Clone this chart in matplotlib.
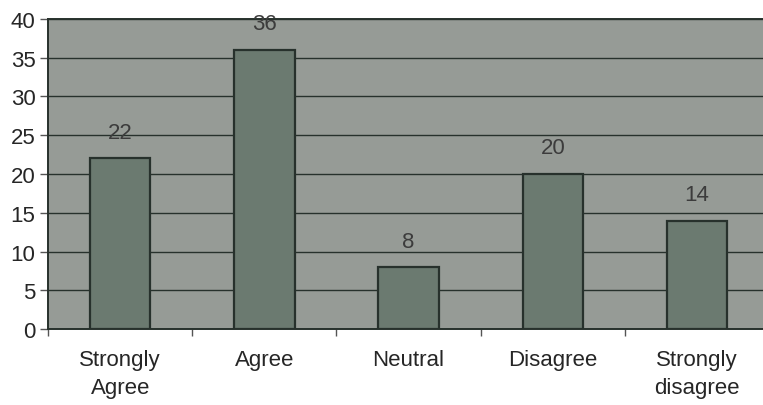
import matplotlib.pyplot as plt
import numpy as np
from matplotlib import use

use('Agg')

categories = ['Strongly\nAgree', 'Agree', 'Neutral', 'Disagree', 'Strongly\ndisagree']
values = [22, 36, 8, 20, 14]
y_ticks = [0, 5, 10, 15, 20, 25, 30, 35, 40]

plt.rcParams['font.family'] = ['Liberation Sans', 'DejaVu Sans']

fig = plt.figure(figsize=(7.63, 4.06), dpi=100)
ax = fig.add_axes([0.063, 0.187, 0.945, 0.764])

bg = '#969b96'
bar_col = '#6b7a70'
dark = '#27312c'
txt = '#262626'

ax.set_facecolor(bg)
x = np.arange(len(categories)) + 0.5
ax.bar(x, values, width=0.42, color=bar_col, edgecolor=dark, linewidth=1.6, zorder=3)

for xi, v in zip(x, values):
    ax.text(xi, v + 2.0, str(v), ha='center', va='bottom', fontsize=16, color='#3c3c3c', zorder=4)

ax.set_xlim(0, len(categories))
ax.set_ylim(0, 40)
ax.set_yticks(y_ticks)
ax.yaxis.grid(True, color=dark, linewidth=1.0, zorder=1)
ax.set_axisbelow(True)

ax.set_xticks(np.arange(len(categories) + 1))
ax.set_xticklabels([])
ax.set_xticks(x, minor=True)
ax.set_xticklabels(categories, minor=True, fontsize=16, color=txt, linespacing=1.45)
ax.tick_params(axis='x', which='minor', length=0, pad=14)
ax.tick_params(axis='x', which='major', length=5, width=1, color='#555555', direction='out')
ax.tick_params(axis='y', length=6, width=1, color='#555555', labelsize=16, labelcolor=txt, pad=3)

for side in ['top', 'left', 'right', 'bottom']:
    ax.spines[side].set_color(dark)
    ax.spines[side].set_linewidth(1.4)

fig.savefig('out.png', dpi=100)
